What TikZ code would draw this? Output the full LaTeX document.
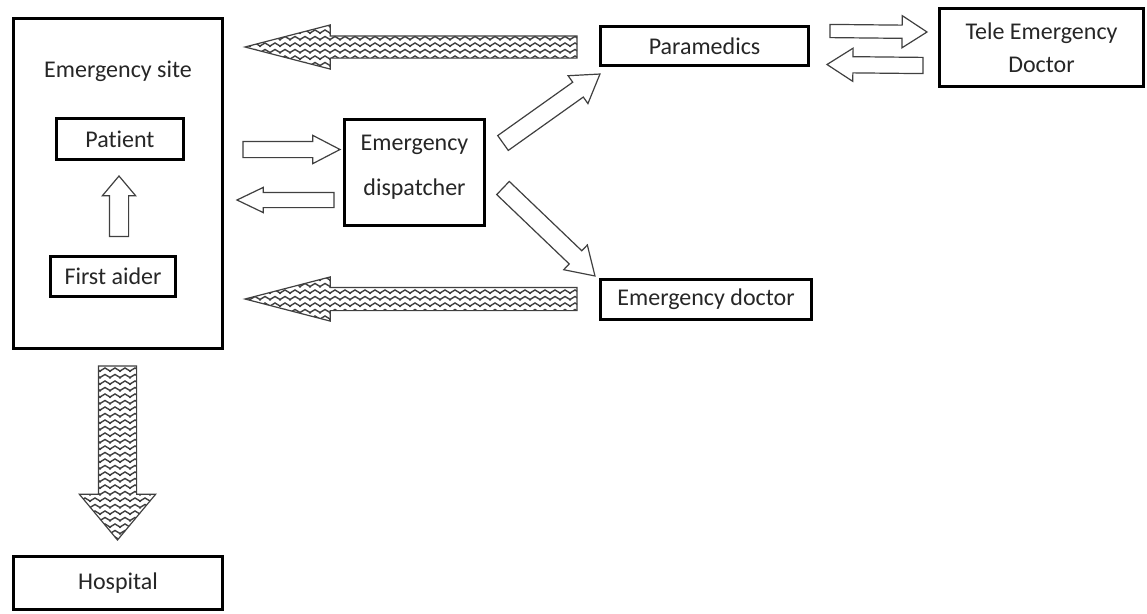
\documentclass[tikz,border=0pt]{standalone}
\usepackage{fontspec}
\setmainfont{Carlito}[Ligatures={NoCommon,NoRare}]
\usetikzlibrary{shapes.arrows, calc, patterns}

% wavy fill of the broad arrows
\pgfdeclarepatternformonly{zigzag rows}{\pgfqpoint{-1pt}{-1pt}}{\pgfqpoint{11pt}{7.5pt}}{\pgfqpoint{10pt}{6.5pt}}{%
  \pgfsetlinewidth{1.4pt}%
  \pgfpathmoveto{\pgfqpoint{-1pt}{0.9pt}}%
  \pgfpathlineto{\pgfqpoint{5pt}{4.5pt}}%
  \pgfpathlineto{\pgfqpoint{11pt}{0.9pt}}%
  \pgfusepath{stroke}%
}

% block arrow: [style]{tail}{tip}{shaft}{head}{head length}
\newcommand{\blockarrow}[6][]{%
  \pgfmathsetmacro\arrext{(#5-#4)/2}%
  \pgfmathsetmacro\arrtip{2*atan(#5/(2*#6))}%
  \pgfmathsetmacro\arrsep{#4/2}%
  \path let \p1=(#2), \p2=(#3),
    \n1={atan2(\y2-\y1,\x2-\x1)}, \n2={veclen(\x2-\x1,\y2-\y1)} in
    node[blockarrow, #1, rotate=\n1, minimum height=\n2, anchor=tail,
      inner ysep=\arrsep pt, single arrow head extend=\arrext pt,
      single arrow tip angle=\arrtip] at (\p1) {};%
}

\tikzset{
  box/.style={draw=black, line width=2.8pt, outer sep=0pt, inner sep=0pt,
    text=black!85, align=center},
  blockarrow/.style={single arrow, draw=black!75, line width=1.2pt, fill=white,
    inner xsep=0pt, outer sep=0pt, minimum width=0pt},
  wavy/.style={pattern=zigzag rows, pattern color=black!75}
}

\begin{document}
\begin{tikzpicture}[x=1pt, y=-1pt, font=\fontsize{24}{29}\selectfont]
  \fill[white] (0,0) rectangle (1147,613);
  \useasboundingbox (0,0) rectangle (1147,613);

  % Boxes
  \node[box, minimum width=209pt, minimum height=330pt] (site) at (118,183.5) {};
  \node[text=black!85] (sitelabel) at (118,71) {Emergency site};
  \node[box, line width=2.4pt, minimum width=127pt, minimum height=41pt] (patient) at (120,139) {Patient};
  \node[box, line width=2.4pt, minimum width=125pt, minimum height=40pt] (aider) at (113,276.5) {First aider};
  \node[box, minimum width=209pt, minimum height=53pt] (hosp) at (118,583) {Hospital};
  \node[box, minimum width=140pt, minimum height=106pt, text depth=15pt] (disp) at (414.5,172.5) {Emergency\\[16pt]dispatcher};
  \node[box, minimum width=208pt, minimum height=39pt] (para) at (704.5,46) {Paramedics};
  \node[box, minimum width=211pt, minimum height=40pt] (edoc) at (706,299.5) {Emergency doctor};
  \node[box, minimum width=204pt, minimum height=78pt] (tele) at (1041.5,47.5) {Tele Emergency\\[4pt]Doctor};

  % Plain arrows
  \blockarrow{[shift={(6pt,20pt)}]aider.north}{[shift={(-1pt,-16.5pt)}]patient.south}{18}{32}{19}
  \blockarrow{[shift={(20.5pt,34pt)}]site.east}{[shift={(-4.5pt,23pt)}]disp.west}{15}{27}{26}
  \blockarrow{[shift={(-10.5pt,-27.5pt)}]disp.west}{[shift={(14.5pt,-16.5pt)}]site.east}{14}{24}{25}
  \blockarrow{[shift={(18.5pt,29.5pt)}]disp.east}{[shift={(-0.5pt,-28pt)}]para.west}{17}{33}{26}
  \blockarrow{[shift={(18.5pt,-15.5pt)}]disp.east}{[shift={(-5.5pt,23.5pt)}]edoc.west}{17}{33}{26}
  \blockarrow{[shift={(21.5pt,15pt)}]para.east}{[shift={(-12.5pt,15.5pt)}]tele.west}{12}{31}{24}
  \blockarrow{[shift={(-16.5pt,-18pt)}]tele.west}{[shift={(18.5pt,-18.5pt)}]para.east}{15}{32}{25}

  % Wavy arrows
  \blockarrow[wavy]{[shift={(-23.5pt,-1pt)}]para.west}{[shift={(22.5pt,136.5pt)}]site.east}{21}{43}{83}
  \blockarrow[wavy]{[shift={(-23.5pt,0.5pt)}]edoc.west}{[shift={(22.5pt,-115.5pt)}]site.east}{22}{43}{83}
  \blockarrow[wavy]{[shift={(-0.5pt,-17.5pt)}]site.south}{[shift={(-0.5pt,16.5pt)}]hosp.north}{37}{75}{45}
\end{tikzpicture}
\end{document}
